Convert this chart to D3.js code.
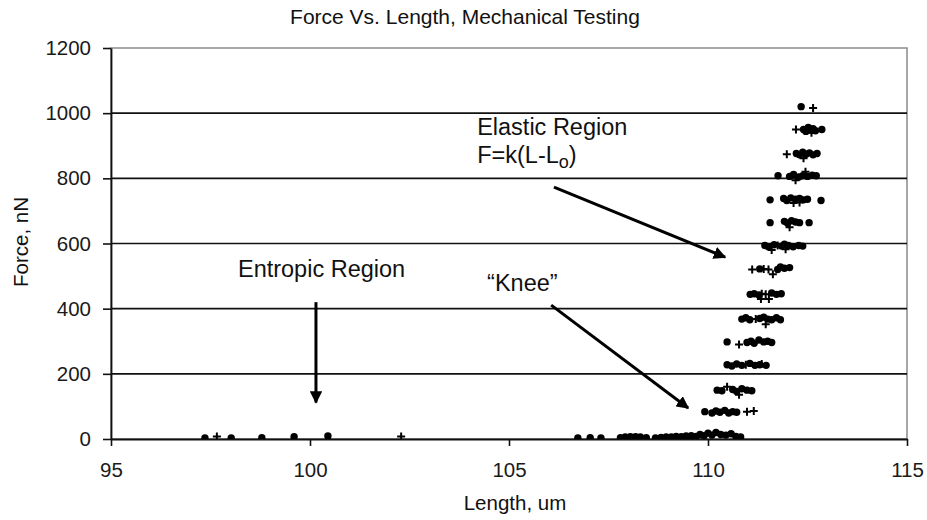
<!DOCTYPE html>
<html>
<head>
<meta charset="utf-8">
<script src="https://cdn.jsdelivr.net/npm/d3@7"></script>
<style>
  body { margin: 0; background: #fff; }
  svg { display: block; font-family: "Liberation Sans", Arial, sans-serif; }
</style>
</head>
<body>
<svg class="main" width="927" height="520"></svg>
<script>
// axis ticks
var xTicks = [95, 100, 105, 110, 115]
var yTicks = [0, 200, 400, 600, 800, 1000, 1200]

// series 1: filled dots [length um, force nN]
var trialDots = [
  [97.36, 3], [98.02, 3], [98.79, 4], [99.6, 7], [100.45, 9],
  [106.73, 3], [107.04, 4], [107.31, 3], [107.8, 4], [107.92, 6], [108.05, 7], [108.18, 7], [108.3, 6], [108.45, 4],
  [108.68, 3], [108.82, 5], [108.95, 6], [109.08, 6], [109.2, 8], [109.33, 7], [109.45, 9], [109.58, 10], [109.7, 8],
  [109.8, 14], [109.9, 10], [110.0, 18], [110.1, 12], [110.2, 20], [110.32, 14], [110.45, 12], [110.58, 16], [110.7, 8], [110.82, 6],
  [109.92, 84], [110.1, 80], [110.2, 86], [110.3, 82], [110.42, 88], [110.52, 80], [110.62, 84], [110.72, 82],
  [110.23, 150], [110.35, 148], [110.62, 152], [110.72, 146], [110.85, 154], [110.98, 150], [111.1, 148],
  [110.48, 228], [110.6, 224], [110.72, 230], [110.85, 226], [111.05, 232], [111.18, 226], [111.3, 228], [111.46, 226],
  [110.48, 298], [110.98, 296], [111.08, 300], [111.16, 294], [111.28, 304], [111.4, 298], [111.5, 300], [111.6, 296],
  [110.85, 368], [110.95, 372], [111.05, 366], [111.3, 370], [111.4, 374], [111.5, 368], [111.6, 366], [111.72, 372], [111.82, 366],
  [111.06, 444], [111.16, 446], [111.28, 442], [111.6, 448], [111.72, 444], [111.84, 446],
  [111.3, 522], [111.75, 520], [111.82, 528], [111.92, 524], [112.05, 526],
  [111.43, 594], [111.52, 590], [111.66, 596], [111.85, 592], [111.92, 598], [112.02, 594], [112.14, 590], [112.28, 594], [112.38, 592],
  [111.56, 664], [111.92, 668], [112.0, 662], [112.1, 670], [112.2, 666], [112.3, 664], [112.54, 664],
  [111.56, 734], [111.9, 738], [111.98, 732], [112.08, 740], [112.2, 736], [112.3, 738], [112.4, 734], [112.5, 736], [112.84, 732],
  [111.76, 808], [112.05, 806], [112.15, 812], [112.28, 804], [112.38, 808], [112.5, 806], [112.62, 810], [112.72, 808],
  [112.22, 876], [112.3, 872], [112.38, 880], [112.46, 874], [112.55, 878], [112.64, 872], [112.74, 876],
  [112.4, 950], [112.46, 944], [112.52, 956], [112.58, 948], [112.64, 952], [112.7, 946], [112.86, 950],
  [112.34, 1020]
]

// series 2: plus markers [length um, force nN]
var trialPlus = [
  [97.66, 8], [102.29, 8],
  [110.98, 84], [111.15, 86],
  [110.48, 160], [110.78, 136],
  [110.95, 228], [111.35, 230],
  [110.78, 290],
  [111.2, 368], [111.45, 352],
  [111.35, 446], [111.45, 444], [111.33, 430], [111.53, 430],
  [111.11, 520], [111.4, 522], [111.52, 520], [111.63, 506],
  [111.6, 580], [111.95, 582], [111.75, 594],
  [112.05, 650],
  [112.15, 724], [112.3, 726],
  [112.2, 794], [112.45, 820],
  [111.98, 874], [112.4, 862],
  [112.21, 950], [112.6, 940],
  [112.64, 1016]
]

// annotation arrows, in data units: [x1, y1, x2, y2]
var arrows = [
  [100.15, 420, 100.15, 112],
  [106.06, 411, 109.5, 95],
  [106.13, 773, 110.43, 558]
]

const width = 927, height = 520
const margin = {top: 48, right: 20, bottom: 81, left: 111}
const w = width - margin.left - margin.right
const h = height - margin.top - margin.bottom

var svg = d3.select('svg.main')

svg.append('defs').append('marker')
  .attr('id', 'head')
  .attr('viewBox', '0 0 10 10')
  .attr('refX', 9).attr('refY', 5)
  .attr('markerWidth', 4.2).attr('markerHeight', 4.2)
  .attr('markerUnits', 'strokeWidth')
  .attr('orient', 'auto')
  .append('path').attr('d', 'M0,0 L10,5 L0,10 z').attr('fill', '#000')

svg.select('defs').append('clipPath').attr('id', 'plotclip')
  .append('rect').attr('width', w).attr('height', h)

var body = svg.append('g')
  .attr('transform', `translate(${margin.left}, ${margin.top})`)

const xScale = d3.scaleLinear().domain([95, 115]).range([0, w])
const yScale = d3.scaleLinear().domain([0, 1200]).range([h, 0])

// plot border (grey) and gridlines (black)
body.append('rect')
  .attr('width', w).attr('height', h)
  .attr('fill', 'none').attr('stroke', '#8a8a8a').attr('stroke-width', 1.5)

body.append('g').selectAll('line')
  .data(yTicks.filter(d => d > 0 && d < 1200))
  .join('line')
  .attr('x1', 0).attr('x2', w)
  .attr('y1', d => yScale(d)).attr('y2', d => yScale(d))
  .attr('stroke', '#111').attr('stroke-width', 1.6)

// axes
const xAxis = body.append('g')
  .attr('transform', `translate(0, ${h})`)
  .call(d3.axisBottom(xScale).tickValues(xTicks).tickFormat(d3.format('d'))
    .tickSize(7).tickPadding(16).tickSizeOuter(0))
const yAxis = body.append('g')
  .call(d3.axisLeft(yScale).tickValues(yTicks).tickFormat(d3.format('d'))
    .tickSize(8).tickPadding(12).tickSizeOuter(0))

;[xAxis, yAxis].forEach(function(ax) {
  ax.select('.domain').attr('stroke', '#111').attr('stroke-width', 1.8)
  ax.selectAll('.tick line').attr('stroke', '#111').attr('stroke-width', 1.6)
  ax.selectAll('.tick text')
    .attr('fill', '#1a1a1a')
    .attr('font-size', 20.5)
    .attr('font-family', '"Liberation Sans", Arial, sans-serif')
})

// points
var marks = body.append('g').attr('clip-path', 'url(#plotclip)')

marks.selectAll('circle')
  .data(trialDots)
  .join('circle')
  .attr('cx', d => xScale(d[0]))
  .attr('cy', d => yScale(d[1]))
  .attr('r', 3.7)
  .attr('fill', '#000')

marks.selectAll('path.plus')
  .data(trialPlus)
  .join('path')
  .attr('class', 'plus')
  .attr('d', d => {
    var x = xScale(d[0]), y = yScale(d[1])
    return `M${x - 4},${y}H${x + 4}M${x},${y - 4}V${y + 4}`
  })
  .attr('stroke', '#000')
  .attr('stroke-width', 2)

// annotation arrows
body.append('g').selectAll('line')
  .data(arrows)
  .join('line')
  .attr('x1', d => xScale(d[0])).attr('y1', d => yScale(d[1]))
  .attr('x2', d => xScale(d[2])).attr('y2', d => yScale(d[3]))
  .attr('stroke', '#000')
  .attr('stroke-width', 3)
  .attr('marker-end', 'url(#head)')

// annotation text
var note = body.append('g')
  .attr('font-size', 23.5)
  .attr('fill', '#111')

note.append('text')
  .attr('x', xScale(98.19)).attr('y', yScale(497))
  .text('Entropic Region')
note.append('text')
  .attr('x', xScale(104.45)).attr('y', yScale(454))
  .text('\u201CKnee\u201D')
note.append('text')
  .attr('x', xScale(104.2)).attr('y', yScale(932))
  .text('Elastic Region')
var formula = note.append('text')
  .attr('x', xScale(104.2)).attr('y', yScale(847))
formula.append('tspan').text('F=k(L-L')
formula.append('tspan').attr('dy', 5).attr('font-size', 18).text('o')
formula.append('tspan').attr('dy', -5).text(')')

// title and axis labels
svg.append('text')
  .attr('x', 465).attr('y', 24)
  .attr('text-anchor', 'middle')
  .attr('font-size', 21)
  .attr('fill', '#111')
  .text('Force Vs. Length, Mechanical Testing')

svg.append('text')
  .attr('transform', `translate(28, 242) rotate(-90)`)
  .attr('text-anchor', 'middle')
  .attr('font-size', 20.5)
  .attr('fill', '#111')
  .text('Force, nN')

svg.append('text')
  .attr('x', 515).attr('y', 510)
  .attr('text-anchor', 'middle')
  .attr('font-size', 20.5)
  .attr('fill', '#111')
  .text('Length, um')
</script>
</body>
</html>
